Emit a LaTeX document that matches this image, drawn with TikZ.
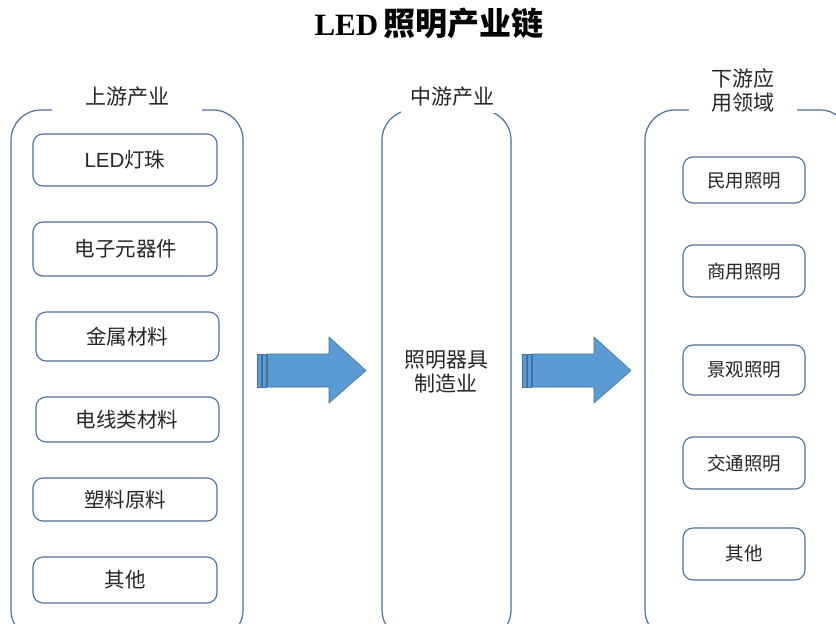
\documentclass[tikz,border=0pt]{standalone}
\usepackage{fontspec}
\setmainfont{Liberation Serif}
\newfontfamily\cjk{Noto Sans CJK SC}
\newfontfamily\cjkb{Noto Sans CJK SC Bold}
\newfontfamily\lsans{Liberation Sans}
\definecolor{frame}{RGB}{74,112,158}
\definecolor{arrowfill}{RGB}{91,155,213}
\definecolor{arrowline}{RGB}{65,113,156}
\definecolor{txt}{RGB}{38,38,38}
\begin{document}
\begin{tikzpicture}[x=1pt,y=-1pt,
  container/.style={draw=frame,line width=1.2pt,rounded corners=30pt},
  itembox/.style={draw=frame,line width=1.1pt,rounded corners=10pt},
  itemtext/.style={font=\cjk\fontsize{20.5}{24}\selectfont,text=txt,inner sep=0pt},
  rtext/.style={font=\cjk\fontsize{18.5}{22}\selectfont,text=txt,inner sep=0pt},
  headlabel/.style={font=\cjk\fontsize{21}{24}\selectfont,text=txt,fill=white,inner sep=2pt,align=center,minimum height=32pt}
  ,blockarrow/.style={fill=arrowfill,draw=arrowline,line width=0.6pt}
]
\useasboundingbox (0,0) rectangle (836,624);
\clip (0,0) rectangle (836,624);
\fill[white] (0,0) rectangle (836,624);

% title
\node (title) at (429,23) {\fontsize{31}{34}\selectfont\bfseries LED\,{\cjkb\fontsize{32}{34}\selectfont 照明产业链}};

% containers
\draw[container] (11,640) rectangle (243,110);
\draw[container] (382,640) rectangle (511,110);
\draw[container] (645,640) rectangle (850,110);

\node[headlabel,minimum width=150pt] (up) at (127,97) {上游产业};
\node[headlabel,minimum width=102pt] (mid) at (452,97) {中游产业};
\node[headlabel,minimum width=108pt,minimum height=60pt] (down) at (743,90) {下游应\\用领域};

% left items
\draw[itembox] (33,134) rectangle (217,186);
\node[itemtext] (l1) at (125,160) {{\lsans LED}灯珠};
\draw[itembox] (33,222) rectangle (217,276);
\node[itemtext] (l2) at (126,249) {电子元器件};
\draw[itembox] (36,312) rectangle (219,361);
\node[itemtext] (l3) at (127,337) {金属材料};
\draw[itembox] (36,397) rectangle (219,442);
\node[itemtext] (l4) at (127,420) {电线类材料};
\draw[itembox] (33,478) rectangle (217,521);
\node[itemtext] (l5) at (125,500) {塑料原料};
\draw[itembox] (33,557) rectangle (217,603);
\node[itemtext] (l6) at (125,580) {其他};

% middle text
\node[itemtext,font=\cjk\fontsize{21}{24}\selectfont,align=center] (m) at (446,372) {照明器具\\制造业};

% right items
\draw[itembox] (683,157) rectangle (805,203);
\node[rtext] (r1) at (744,181) {民用照明};
\draw[itembox] (683,245) rectangle (805,297);
\node[rtext] (r2) at (744,271) {商用照明};
\draw[itembox] (683,345) rectangle (805,395);
\node[rtext] (r3) at (744,370) {景观照明};
\draw[itembox] (683,437) rectangle (805,489);
\node[rtext] (r4) at (744,463) {交通照明};
\draw[itembox] (683,528) rectangle (805,580);
\node[rtext] (r5) at (744,553) {其他};

% block arrows
\foreach \dx in {0,265}{
  \begin{scope}[xshift=\dx]
    \draw[blockarrow] (257,354) rectangle (261,387);
    \draw[blockarrow] (262.5,354) rectangle (266,387);
    \draw[blockarrow] (267.5,354) -- (329,354) -- (329,337) -- (366,370.5)
      -- (329,403) -- (329,387) -- (267.5,387) -- cycle;
  \end{scope}
}
\end{tikzpicture}
\end{document}
